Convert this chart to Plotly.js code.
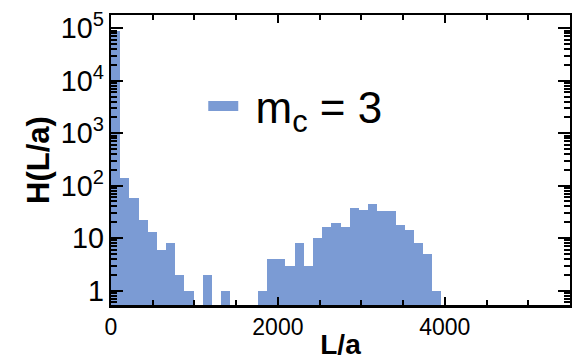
<!DOCTYPE html>
<html>
<head>
<meta charset="utf-8">
<script src="https://cdn.plot.ly/plotly-3.0.1.min.js"></script>
<style>html,body{margin:0;padding:0;background:#fff;}#chart{width:572px;height:360px;}</style>
</head>
<body>
<div id="chart"></div>
<script>
// Histogram bins of L/a (bin width 110), centers and counts H(L/a)
const binCenters = [55, 165, 275, 385, 495, 605, 715, 825, 935, 1045, 1155, 1265,
  1375, 1485, 1595, 1705, 1815, 1925, 2035, 2145, 2255, 2365, 2475, 2585, 2695,
  2805, 2915, 3025, 3135, 3245, 3355, 3465, 3575, 3685, 3795, 3905];
const counts = [89000, 141, 57, 22, 13, 6, 8, 2, 1, 0, 2, 0,
  1, 0, 0, 0, 1, 4, 4, 3, 8, 3, 10, 16, 19,
  16, 38, 35, 44, 33, 33, 18, 14, 8, 5, 1];
const seriesName = '\u00a0m<sub>c</sub> = 3';
const xTitle = 'L/a';
const yTitle = 'H(L/a)';

const barColor = 'rgb(123,155,212)';
const font = '"Liberation Sans", Arial, sans-serif';

const traces = [
  {
    type: 'bar',
    x: binCenters,
    y: counts.map(v => v > 0 ? v : null),
    width: 110,
    marker: {color: barColor, line: {width: 0}},
    showlegend: false,
    hoverinfo: 'x+y'
  },
  {
    type: 'scatter',
    mode: 'lines',
    x: [null],
    y: [null],
    name: seriesName,
    line: {color: barColor, width: 10},
    showlegend: true
  }
];

const layout = {
  width: 572,
  height: 360,
  margin: {l: 111, r: 2, t: 15, b: 55},
  paper_bgcolor: '#fff',
  plot_bgcolor: '#fff',
  font: {family: font, color: '#000'},
  bargap: 0,
  showlegend: true,
  legend: {
    x: 0.201, y: 0.685, xanchor: 'left', yanchor: 'middle',
    bgcolor: 'rgba(0,0,0,0)', borderwidth: 0,
    font: {size: 44, family: font, color: '#000'}
  },
  xaxis: {
    range: [0, 5500],
    dtick: 2000, tick0: 0,
    ticks: 'inside', ticklen: 8, tickwidth: 2, tickcolor: '#000',
    minor: {dtick: 500, tick0: 0, ticks: 'inside', ticklen: 5, tickwidth: 2, tickcolor: '#000', showgrid: false},
    showline: true, linewidth: 2.5, linecolor: '#000', mirror: 'allticks',
    showgrid: false, zeroline: false,
    tickfont: {size: 23, family: font},
    title: {text: '<b>' + xTitle + '</b>', font: {size: 28, family: font}, standoff: 2}
  },
  yaxis: {
    type: 'log',
    range: [-0.276, 5.253],
    dtick: 1, tick0: 0, exponentformat: 'power',
    ticks: 'inside', ticklen: 12, tickwidth: 2, tickcolor: '#000',
    minor: {dtick: 'D1', ticks: 'inside', ticklen: 6, tickwidth: 2, tickcolor: '#000', showgrid: false},
    showline: true, linewidth: 2.5, linecolor: '#000', mirror: 'allticks',
    showgrid: false, zeroline: false,
    tickfont: {size: 23, family: font},
    title: {text: '<b>' + yTitle + '</b>', font: {size: 31, family: font}, standoff: 2}
  }
};

Plotly.newPlot('chart', traces, layout, {displayModeBar: false, staticPlot: true});
</script>
</body>
</html>
